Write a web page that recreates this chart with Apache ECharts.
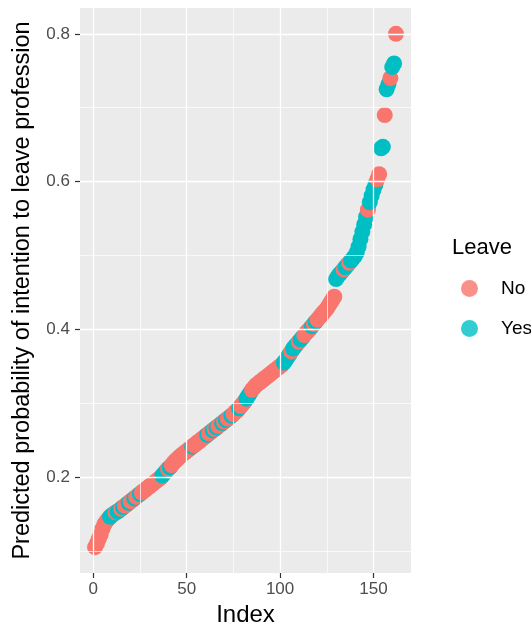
<!DOCTYPE html>
<html>
<head>
<meta charset="utf-8">
<script src="https://cdn.jsdelivr.net/npm/echarts@6/dist/echarts.min.js"></script>
<style>html,body{margin:0;padding:0;background:#fff}#c{width:531px;height:632px}</style>
</head>
<body>
<div id="c"></div>
<script>
// Predicted probability, sorted (index = position + 1)
const probability = [
  0.105,0.110,0.116,0.122,0.130,0.136,0.140,0.143,0.146,0.148,
  0.150,0.152,0.153,0.155,0.157,0.159,0.161,0.163,0.165,0.167,
  0.169,0.171,0.173,0.175,0.177,0.179,0.181,0.183,0.185,0.187,
  0.189,0.191,0.193,0.195,0.197,0.199,0.202,0.205,0.208,0.211,
  0.213,0.216,0.219,0.222,0.224,0.227,0.229,0.231,0.233,0.235,
  0.237,0.239,0.241,0.243,0.245,0.247,0.249,0.251,0.253,0.255,
  0.257,0.259,0.261,0.263,0.265,0.267,0.269,0.271,0.273,0.275,
  0.277,0.279,0.281,0.283,0.285,0.288,0.290,0.293,0.296,0.299,
  0.302,0.306,0.310,0.314,0.318,0.321,0.324,0.326,0.328,0.330,
  0.332,0.334,0.336,0.338,0.340,0.342,0.344,0.346,0.348,0.350,
  0.352,0.355,0.358,0.362,0.366,0.370,0.374,0.377,0.380,0.383,
  0.386,0.389,0.392,0.395,0.398,0.401,0.404,0.407,0.410,0.413,
  0.416,0.419,0.422,0.425,0.428,0.432,0.436,0.440,0.444,0.468,
  0.472,0.475,0.478,0.481,0.484,0.487,0.490,0.493,0.496,0.499,
  0.504,0.512,0.522,0.532,0.542,0.552,0.562,0.572,0.581,0.589,
  0.596,0.603,0.610,0.645,0.647,0.690,0.725,0.732,0.740,0.755,
  0.760,0.800
];
// Leave group for each point
const leave = [
  'No','No','No','No','No','No','No','No','Yes','Yes',
  'Yes','No','Yes','Yes','No','Yes','No','No','Yes','No',
  'No','Yes','No','No','Yes','No','No','No','No','No',
  'No','No','No','No','No','No','Yes','Yes','Yes','No',
  'Yes','No','No','No','No','No','No','No','No','No',
  'No','No','Yes','No','No','No','No','No','No','No',
  'Yes','No','No','Yes','No','Yes','No','No','Yes','No',
  'Yes','No','No','Yes','No','No','No','Yes','No','No',
  'No','Yes','Yes','Yes','No','No','No','No','No','No',
  'No','No','No','No','No','No','No','No','No','No',
  'No','Yes','Yes','Yes','Yes','No','Yes','Yes','Yes','No',
  'Yes','Yes','No','No','No','No','Yes','No','Yes','No',
  'No','No','No','No','No','No','No','No','No','Yes',
  'Yes','Yes','Yes','No','Yes','Yes','No','Yes','Yes','Yes',
  'Yes','Yes','Yes','Yes','Yes','Yes','No','Yes','Yes','Yes',
  'Yes','No','No','Yes','Yes','No','Yes','Yes','No','Yes',
  'Yes','No'
];
const groups = ['No', 'Yes'];
const groupColors = {No: '#F8766D', Yes: '#00BFC4'};
const xTicks = [0, 50, 100, 150];
const xMinor = [25, 75, 125];
const yTicks = [0.2, 0.4, 0.6, 0.8];
const yMinor = [0.1, 0.3, 0.5, 0.7];

const points = probability.map((p, i) => ({
  value: [i + 1, p],
  itemStyle: {color: groupColors[leave[i]]}
}));

const gridLines = [];
xTicks.forEach(v => gridLines.push({xAxis: v, lineStyle: {color: '#fff', width: 1.3, type: 'solid'}}));
xMinor.forEach(v => gridLines.push({xAxis: v, lineStyle: {color: '#fff', width: 0.7, type: 'solid'}}));
yTicks.forEach(v => gridLines.push({yAxis: v, lineStyle: {color: '#fff', width: 1.3, type: 'solid'}}));
yMinor.forEach(v => gridLines.push({yAxis: v, lineStyle: {color: '#fff', width: 0.7, type: 'solid'}}));

const chart = echarts.init(document.getElementById('c'), null, {renderer: 'canvas'});
chart.setOption({
  animation: false,
  backgroundColor: '#fff',
  textStyle: {fontFamily: 'Liberation Sans, Arial, sans-serif'},
  title: {
    text: 'Leave', left: 447, top: 232,
    textStyle: {fontSize: 22, fontWeight: 'normal', color: '#000', fontFamily: 'Liberation Sans'}
  },
  legend: {
    data: groups, orient: 'vertical', left: 456, top: 274,
    icon: 'circle', itemWidth: 17, itemHeight: 17, itemGap: 21,
    textStyle: {fontSize: 19, color: '#000', padding: [0, 0, 0, 18], fontFamily: 'Liberation Sans'}
  },
  grid: {
    left: 80, right: 120, top: 8, bottom: 59,
    show: true, backgroundColor: '#EBEBEB', borderWidth: 0
  },
  xAxis: {
    type: 'value', min: -7.05, max: 170.05,
    name: 'Index', nameLocation: 'middle', nameGap: 30,
    nameTextStyle: {fontSize: 24, color: '#000', fontFamily: 'Liberation Sans'},
    axisLine: {show: true, onZero: false, lineStyle: {color: 'rgba(0,0,0,0)'}},
    splitLine: {show: false},
    axisTick: {show: true, customValues: xTicks, length: 5, lineStyle: {color: '#333', width: 1.2}},
    axisLabel: {customValues: xTicks, fontSize: 17, color: '#4D4D4D', margin: 8, fontFamily: 'Liberation Sans'}
  },
  yAxis: {
    type: 'value', min: 0.07, max: 0.835,
    name: 'Predicted probability of intention to leave profession',
    nameLocation: 'middle', nameRotate: 90, nameGap: 45,
    nameTextStyle: {fontSize: 23.5, color: '#000', fontFamily: 'Liberation Sans'},
    axisLine: {show: true, onZero: false, lineStyle: {color: 'rgba(0,0,0,0)'}},
    splitLine: {show: false},
    axisTick: {show: true, customValues: yTicks, length: 5, lineStyle: {color: '#333', width: 1.2}},
    axisLabel: {customValues: yTicks, fontSize: 17, color: '#4D4D4D', margin: 10,
      formatter: v => v.toFixed(1), fontFamily: 'Liberation Sans'}
  },
  series: [
    {
      name: 'grid', type: 'scatter', data: [], z: 1, silent: true,
      markLine: {silent: true, symbol: 'none', label: {show: false}, animation: false, data: gridLines}
    },
    {
      name: 'points', type: 'scatter', data: points, symbol: 'circle', symbolSize: 16, z: 3,
      itemStyle: {opacity: 1}
    },
    {name: 'No', type: 'scatter', data: [], itemStyle: {color: groupColors.No}},
    {name: 'Yes', type: 'scatter', data: [], itemStyle: {color: groupColors.Yes}}
  ]
});
</script>
</body>
</html>
